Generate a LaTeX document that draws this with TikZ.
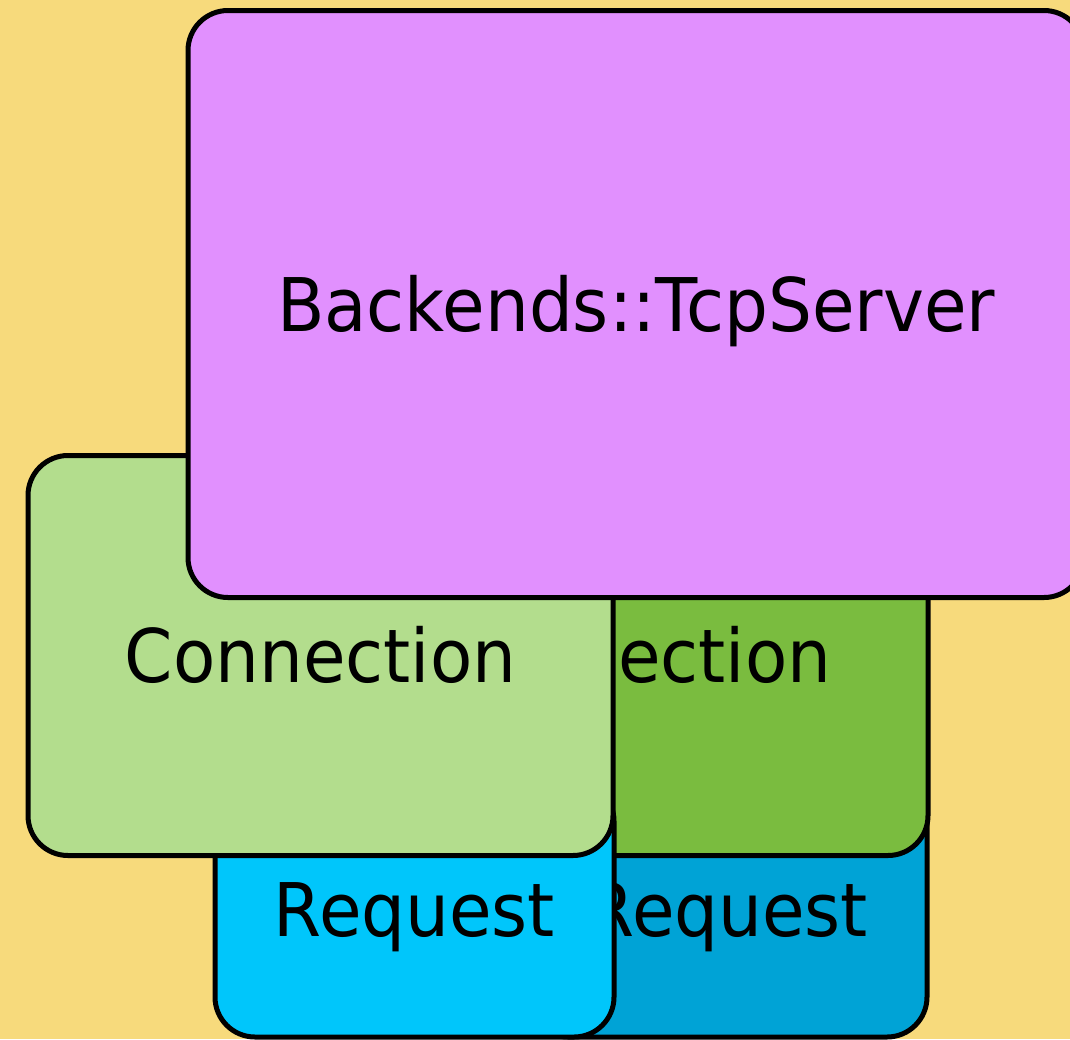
\documentclass[tikz,border=0pt]{standalone}
\usepackage{fontspec}
\setmainfont[FakeStretch=0.935]{DejaVu Sans}
\usepackage{xcolor}
\usetikzlibrary{positioning}

\definecolor{sandbg}{HTML}{F7DA7C}
\definecolor{serverpink}{HTML}{E190FE}
\definecolor{connlight}{HTML}{B3DD8D}
\definecolor{conndark}{HTML}{7ABC3F}
\definecolor{reqlight}{HTML}{00C6FB}
\definecolor{reqdark}{HTML}{00A3D6}

\begin{document}
\begin{tikzpicture}[x=1pt,y=-1pt,
  box/.style={draw=black,line width=5pt,rectangle,rounded corners=40pt,
              font=\fontsize{74}{88}\selectfont,inner sep=0pt,
              text height=54pt,text depth=0pt},
  reqbox/.style={box,minimum width=399pt,minimum height=256pt},
  connbox/.style={box,minimum width=585pt,minimum height=400pt}]
  % background
  \fill[sandbg] (0,0) rectangle (1070,1039);
  \useasboundingbox (0,0) rectangle (1070,1039);
  % back pair
  \node[reqbox,fill=reqdark]   (req2)  at (727.5,909) {Request};
  \node[connbox,fill=conndark] (conn2) at (635.5,655.5) {Connection};
  % front pair
  \node[reqbox,fill=reqlight]   (req1)  at (414.5,909) {Request};
  \node[connbox,fill=connlight] (conn1) at (320.5,655.5) {Connection};
  % server on top
  \node[box,fill=serverpink,minimum width=896pt,minimum height=587pt]
       (server) at (636,304) {Backends::TcpServer};
\end{tikzpicture}
\end{document}
